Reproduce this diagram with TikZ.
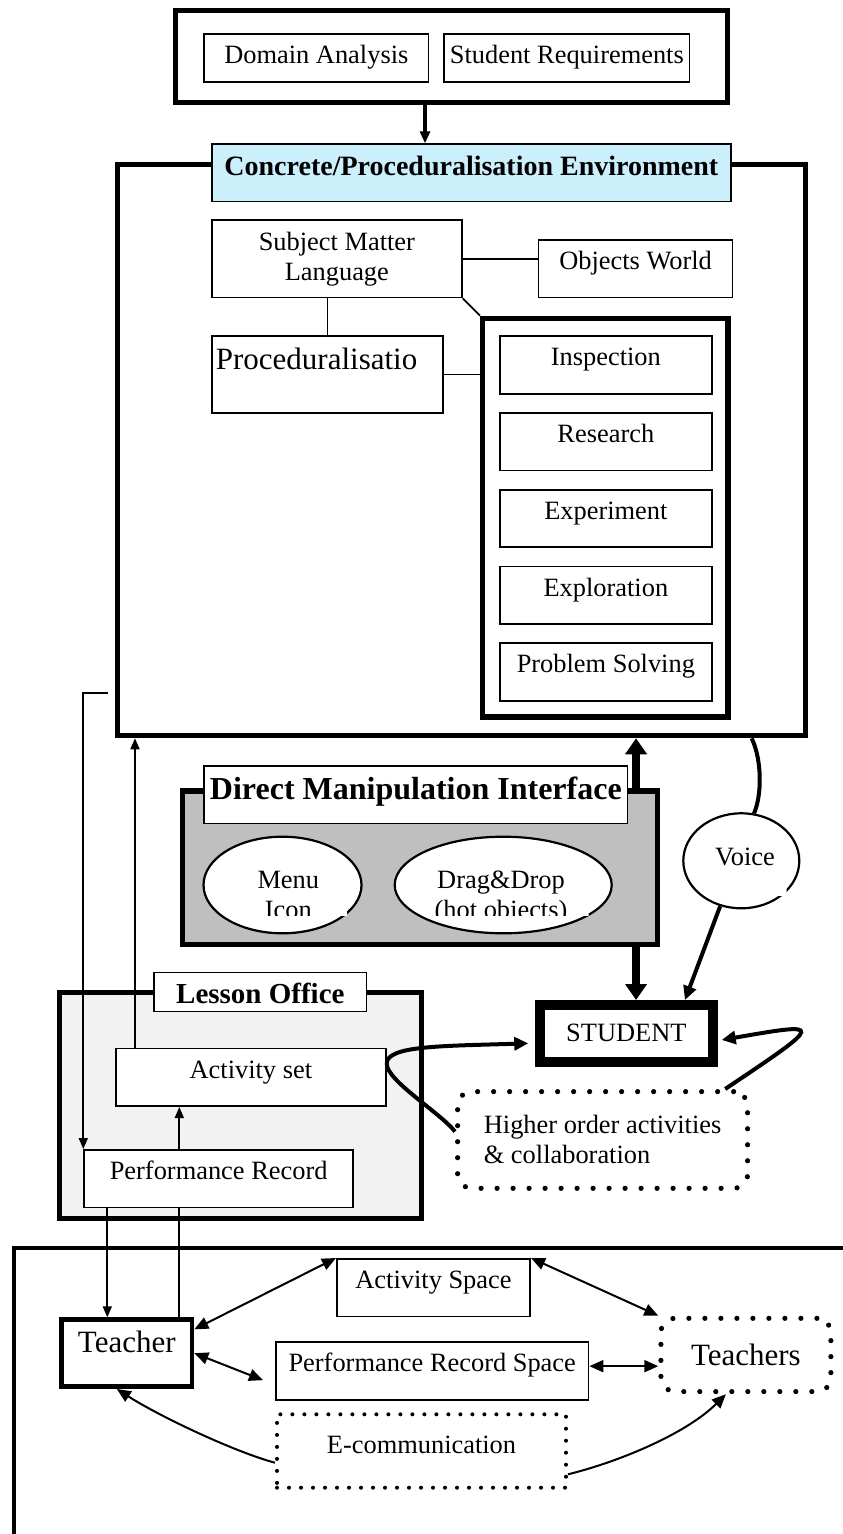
\documentclass[tikz,border=0pt]{standalone}
\usepackage{fontspec}
\setmainfont{Liberation Serif}
\usetikzlibrary{shapes.geometric,arrows.meta}

\begin{document}
\begin{tikzpicture}
          [x=0.5pt, y=-0.5pt, font=\fontsize{13.2}{15}\selectfont,
           box/.style      = {draw, fill=white, line width=0.85pt, inner sep=0pt, anchor=north west},
           wbox/.style     = {box, text height=14.8pt, text depth=14pt},
           outerbox/.style = {draw, line width=2.6pt, inner sep=0pt, anchor=north west},
           hdrbox/.style   = {box, font=\bfseries\fontsize{14}{16}\selectfont},
           bigtext/.style  = {font=\fontsize{15.5}{18}\selectfont},
           dotbox/.style   = {draw, fill=white, line width=2.6pt, line cap=round, dash pattern=on 0pt off 8pt,
                              rounded corners=7pt, inner sep=0pt, anchor=north west},
           oval/.style     = {ellipse, draw, fill=white, line width=1.1pt, inner sep=0pt},
           conn/.style     = {line width=0.85pt},
           thinarr/.style  = {conn, -{Triangle[length=5.5pt,width=4.5pt]}},
           talkarr/.style  = {line width=1pt, -{Triangle[length=7pt,width=6pt]}},
           talkboth/.style = {line width=1pt, {Triangle[length=7pt,width=6pt]}-{Triangle[length=7pt,width=6pt]}},
           heavyarr/.style = {line width=2pt, -{Triangle[length=7pt,width=6.5pt]}},
           fatarr/.style   = {line width=4pt, -{Triangle[length=8pt,width=10.5pt]}}]

\useasboundingbox (0,0) rectangle (842,1534);

% Define fill colors
\colorlet{envcolor}{cyan!20}
\colorlet{dmicolor}{black!25}
\colorlet{officecolor}{black!5}

% requirements
\node[outerbox, minimum width=276pt, minimum height=45.75pt] (reqs) at (172.7,8.3) {};
\node[box, minimum width=112.2pt, text height=14.8pt, text depth=9.05pt] (dom) at (203.3,33.3) {Domain Analysis};
\node[box, minimum width=122.7pt, text height=14.8pt, text depth=9.05pt] (sreq) at (443.3,33.3) {Student Requirements};

% environment
\node[outerbox, minimum width=343.75pt, minimum height=285.4pt] (conc) at (115,162.3) {};
\node[hdrbox, fill=envcolor, minimum width=259.5pt, text height=15.8pt, text depth=12.9pt] (hdr) at (211,143.3) {Concrete/Proceduralisation Environment};
\node[box, minimum width=125pt, minimum height=38.7pt, align=center] (sml) at (211,219.3) {Subject Matter\\Language};
\node[wbox, minimum width=97pt] (obj) at (537.7,239) {Objects World};
\node[box, bigtext, text width=111.65pt, inner xsep=2pt, align=left, text height=16.75pt, text depth=21.9pt] (proc) at (211,335) {Proceduralisatio};
\node[outerbox, minimum width=122.65pt, minimum height=199.3pt] (acts) at (480,315.7) {};
\foreach \nm/\txt [count=\i from 0] in {insp/Inspection, res/Research, exper/Experiment, expl/Exploration, probs/Problem Solving}
  \node[wbox, minimum width=106pt] (\nm) at (499,{335.3+76.75*\i}) {\txt};

% interface
\node[outerbox, fill=dmicolor, minimum width=237.4pt, minimum height=76.6pt] (dmi) at (180,788.3) {};
\node[hdrbox, font=\bfseries\fontsize{16}{18}\selectfont, minimum width=211.7pt, text height=16.8pt, text depth=12.05pt] (dmihdr) at (203.3,765) {Direct Manipulation Interface};
\node[oval, minimum width=79pt, minimum height=48.3pt] (menu) at (282.5,885) {};
\node[oval, minimum width=108.5pt, minimum height=48.3pt] (drag) at (503.2,885) {};
\node[oval, minimum width=58pt, minimum height=47.5pt] (voice) at (741.3,860.8) {};
\begin{scope}
  \clip (226,862) rectangle (347,915.5);
  \fill[white] (226,862) rectangle (347,915.5);
  \node[anchor=north, align=center, inner sep=0pt] (menutxt) at (288.3,871.2) {Menu\\Icon};
\end{scope}
\begin{scope}
  \clip (425,862) rectangle (588.5,915.5);
  \fill[white] (425,862) rectangle (588.5,915.5);
  \node[anchor=north, align=center, inner sep=0pt] (dragtxt) at (501,870.7) {Drag\&Drop\\(hot objects)};
\end{scope}
\begin{scope}
  \clip (706,840) rectangle (786.5,896);
  \fill[white] (706,840) rectangle (786.5,896);
  \node[inner sep=0pt] (voicetxt) at (745,857.3) {Voice};
\end{scope}

% student side
\node[draw, line width=5pt, inner sep=0pt, anchor=north west, minimum width=86.35pt, minimum height=28.35pt] (student) at (535,1000) {STUDENT};
\node[dotbox, minimum width=145pt, minimum height=48.35pt, align=left] (ho) at (455,1089) {Higher order activities\\\& collaboration};

% lesson office
\node[outerbox, fill=officecolor, minimum width=181.05pt, minimum height=112.75pt] (lo) at (56.7,990) {};
\node[hdrbox, font=\bfseries\fontsize{14.5}{16}\selectfont, minimum width=106.2pt, text height=15.65pt, text depth=3.85pt] (lohdr) at (153.3,971.7) {Lesson Office};
\node[wbox, minimum width=135pt] (actset) at (115,1047.7) {Activity set};
\node[wbox, minimum width=134.5pt] (perf) at (83.3,1149) {Performance Record};

% teachers
\node[outerbox, line width=2.3pt, minimum width=500pt, minimum height=200pt] (staff) at (11.7,1245.7) {};
\node[outerbox, bigtext, line width=2.4pt, minimum width=65.1pt, text height=16.4pt, text depth=17.05pt] (teacher) at (59.3,1317.3) {Teacher};
\node[wbox, minimum width=96.65pt] (aspace) at (336,1258) {Activity Space};
\node[wbox, minimum width=156.35pt] (prspace) at (275,1341.3) {Performance Record Space};
\node[dotbox, line width=2pt, dash pattern=on 0pt off 6pt, sharp corners, minimum width=144.5pt, text height=19.35pt, text depth=17.35pt] (ecomm) at (275,1412.3) {E-communication};
\node[dotbox, bigtext, minimum width=85pt, minimum height=36.65pt] (teachers) at (658.3,1315.7) {Teachers};

% environment links
\draw[line width=2pt, -{Triangle[length=6pt,width=5pt]}] ([xshift=-2.2pt]dom.east |- reqs.south) -- ([xshift=-2.2pt]dom.east |- hdr.north);
\draw[conn] (sml.east) -- (sml.east -| obj.west);
\draw[conn] (proc.north) -- (proc.north |- sml.south);
\draw[conn] (proc.east) -- (proc.east -| acts.west);
\draw[conn] (sml.south east) -- (acts.north west);

% office links
\coordinate (fb) at (108.3,692.7);
\draw[thinarr] (fb) -| (perf.north west);
\draw[thinarr] ([xshift=10pt]actset.north west) -- ([xshift=10pt]actset.north west |- conc.south);
\draw[thinarr] ([xshift=48pt]perf.north west) -- ([xshift=48pt]perf.north west |- actset.south);
\draw[thinarr] ([xshift=12pt]perf.south west) -- ([xshift=12pt]perf.south west |- teacher.north);
\draw[conn] ([xshift=48pt]perf.south west |- teacher.north) -- ([xshift=48pt]perf.south west);

% student links
\draw[fatarr] ([xshift=4.85pt]student.north |- dmi.north) -- ([xshift=4.85pt]student.north |- conc.south);
\draw[fatarr] ([xshift=4.85pt]student.north |- dmi.south) -- ([xshift=4.85pt]student.north);
\draw[line width=2pt] ([xshift=-28pt]conc.south east) .. controls (762,760) and (762,795) .. (voice.75);
\draw[heavyarr] (voice.-115) -- ([xshift=29.3pt]student.north);
\draw[heavyarr] ([yshift=6.85pt]actset.east) .. controls +(0,-18) and +(-88,2.7) .. ([shift={(-3.35pt,-5pt)}]student.west);
\draw[line width=2pt] ([yshift=6.85pt]actset.east) .. controls +(0,17) and +(-15,-19) .. ([yshift=4.2pt]ho.west);
\draw[heavyarr] ([xshift=-12.5pt]ho.north east) .. controls (825,1022) and (825,1022) .. ([shift={(2pt,-3.3pt)}]student.east);

% teacher links
\draw[talkboth] ([yshift=-6pt]teacher.north east) -- (aspace.north west);
\draw[talkboth] (teacher.east) -- ([shift={(-6pt,-4.6pt)}]prspace.west);
\draw[talkboth] (aspace.north east) -- (teachers.north west);
\draw[talkboth] ([yshift=2.4pt]prspace.east) -- ([yshift=2.4pt]prspace.east -| teachers.west);
\draw[talkarr] ([yshift=-5.85pt]ecomm.west) .. controls +(-40,-10.7) and +(43.3,27.7) .. ([xshift=-5pt]teacher.south);
\draw[talkarr] ([yshift=-11.65pt]ecomm.east) .. controls +(50,-12.3) and +(-40.3,40) .. ([xshift=-10pt]teachers.south);

\end{tikzpicture}
\end{document}
